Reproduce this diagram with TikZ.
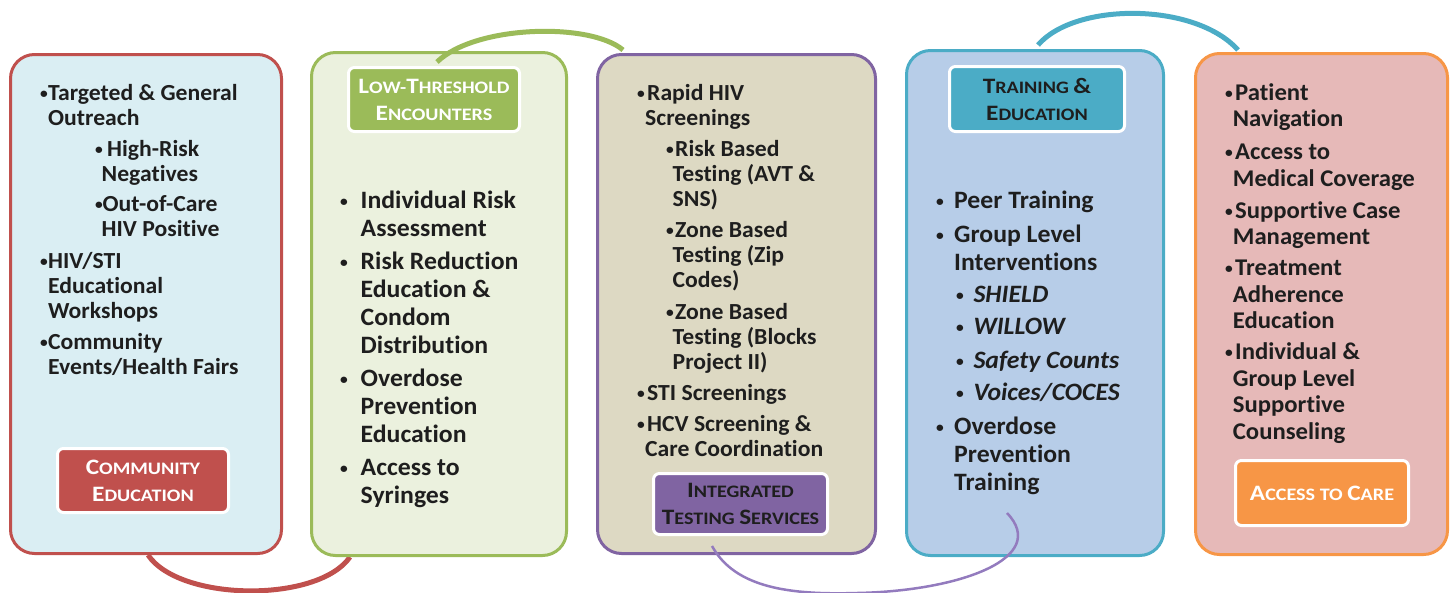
\documentclass[tikz,border=0pt]{standalone}
\usepackage{fontspec}
\setmainfont{Carlito}[Ligatures=NoCommon, FakeStretch=1.03]
\newfontfamily\labelfont{Carlito}[Ligatures=NoCommon, FakeStretch=1.15]
\usetikzlibrary{backgrounds}

\definecolor{redB}{HTML}{C0504D}
\definecolor{greenB}{HTML}{9BBB59}
\definecolor{purpleB}{HTML}{8064A2}
\definecolor{tealB}{HTML}{4BACC6}
\definecolor{orangeB}{HTML}{F79646}
\definecolor{fillA}{HTML}{DAEEF3}
\definecolor{fillB}{HTML}{EBF1DE}
\definecolor{fillC}{HTML}{DDD9C3}
\definecolor{fillD}{HTML}{B7CDE8}
\definecolor{fillE}{HTML}{E6B9B8}
\definecolor{purpleL}{HTML}{937BBE}
\definecolor{ink}{HTML}{1E1E1E}

% small bullet followed by a fixed gap; continuation lines are indented by \hspace*
\newcommand\bu[1]{\makebox[#1pt][l]{\raisebox{2.2pt}{\fontsize{15}{15}\selectfont •}}}
\newcommand\ind[1]{\hspace*{#1pt}}
% larger initial capital for the label headings
\newcommand\bigc[1]{{\fontsize{22}{27}\selectfont #1}}

\begin{document}
\begin{tikzpicture}[x=1pt,y=-1pt,
  panel/.style={draw, line width=3pt, rounded corners=24pt, anchor=north west,
    inner sep=0pt},
  tag/.style={draw=white, line width=3pt, rounded corners=6pt, inner sep=0pt,
    align=center, font=\labelfont\bfseries\fontsize{17.5}{27}\selectfont},
  body/.style={anchor=north west, inner sep=0pt, align=left, text=ink},
  link/.style={line width=5pt},
]
\useasboundingbox (0,0) rectangle (1454,592);

% the five panels
\node[panel, draw=redB,    fill=fillA, minimum width=271pt, minimum height=499pt] (b1) at (9,53) {};
\node[panel, draw=greenB,  fill=fillB, minimum width=255pt, minimum height=503pt] (b2) at (310,51) {};
\node[panel, draw=purpleB, fill=fillC, minimum width=278pt, minimum height=499pt] (b3) at (596,53) {};
\node[panel, draw=tealB,   fill=fillD, minimum width=257pt, minimum height=505pt] (b4) at (905,49) {};
\node[panel, draw=orangeB, fill=fillE, minimum width=252pt, minimum height=501pt] (b5) at (1194,52) {};

% connector end points
\coordinate (r1) at ([xshift=139pt]b1.south west);
\coordinate (r2) at ([xshift=40pt]b2.south west);
\coordinate (g1) at ([xshift=127pt,yshift=-11pt]b2.north west);
\coordinate (g2) at ([xshift=27pt,yshift=3pt]b3.north west);
\coordinate (p1) at ([xshift=116pt,yshift=9pt]b3.south west);
\coordinate (pm) at ([xshift=-48pt,yshift=-36pt]b4.south west);
\coordinate (p2) at ([xshift=102pt,yshift=44pt]b4.south west);
\coordinate (c1) at ([xshift=133pt,yshift=4pt]b4.north west);
\coordinate (c2) at ([xshift=44pt,yshift=2pt]b5.north west);

% connecting arcs
\begin{scope}[on background layer]
  \draw[link, draw=redB] (r1) .. controls +(32,47) and +(-32,46) .. (r2);
\end{scope}
\draw[link, draw=greenB] (g1) .. controls +(38,-37) and +(-33,-28) .. (g2);
\draw[link, draw=tealB]  (c1) .. controls +(37,-43) and +(-43,-48) .. (c2);
\draw[line width=2.5pt, draw=purpleL] (p1) .. controls +(23,42) and +(-67,2) .. (pm)
  .. controls +(103,-2) and +(43,45) .. (p2);

% heading tags
\node[tag, fill=redB, text=white, minimum width=171pt, minimum height=64pt] (l1) at (143,480.5)
  {\bigc{C}OMMUNITY\\\bigc{E}DUCATION};
\node[tag, fill=greenB, text=white, minimum width=171pt, minimum height=64pt] (l2) at (434,99.5)
  {\bigc{L}OW-\bigc{T}HRESHOLD\\\bigc{E}NCOUNTERS};
\node[tag, fill=purpleB, text=ink, minimum width=174pt, minimum height=61pt] (l3) at (740.5,504)
  {\bigc{I}NTEGRATED\\\bigc{T}ESTING \bigc{S}ERVICES};
\node[tag, fill=tealB, text=ink, minimum width=175pt, minimum height=65pt] (l4) at (1037,99)
  {\bigc{T}RAINING \bigc{\&}\\\bigc{E}DUCATION};
\node[tag, fill=orangeB, text=white, minimum width=173pt, minimum height=65pt] (l5) at (1322,493)
  {\bigc{A}CCESS TO \bigc{C}ARE};

% panel contents
\node[body, font=\bfseries\fontsize{23}{25}\selectfont] (t1) at (40,78)
  {\rule{0pt}{22pt}\bu{8}Targeted \& General\\
   \ind{8}Outreach\\[6pt]
   \ind{55}\bu{12}High-Risk\\
   \ind{61.5}Negatives\\[5pt]
   \ind{55}\bu{7.5}Out-of-Care\\
   \ind{61.5}HIV Positive\\[7pt]
   \bu{8}HIV/STI\\
   \ind{8}Educational\\
   \ind{8}Workshops\\[6pt]
   \bu{8}Community\\
   \ind{8}Events/Health Fairs};

\node[body, font=\bfseries\fontsize{25}{28}\selectfont] (t2) at (340,186)
  {\rule{0pt}{22pt}\bu{20.5}Individual Risk\\
   \ind{20.5}Assessment\\[5pt]
   \bu{20.5}Risk Reduction\\
   \ind{20.5}Education \&\\
   \ind{20.5}Condom\\
   \ind{20.5}Distribution\\[5pt]
   \bu{20.5}Overdose\\
   \ind{20.5}Prevention\\
   \ind{20.5}Education\\[5pt]
   \bu{20.5}Access to\\
   \ind{20.5}Syringes};

\node[body, font=\bfseries\fontsize{23}{25}\selectfont] (t3) at (637,78.5)
  {\rule{0pt}{22pt}\bu{10}Rapid HIV\\
   \ind{8}Screenings\\[6pt]
   \ind{29}\bu{9}Risk Based\\
   \ind{35.5}Testing (AVT \&\\
   \ind{35.5}SNS)\\[6pt]
   \ind{29}\bu{9}Zone Based\\
   \ind{35.5}Testing (Zip\\
   \ind{35.5}Codes)\\[7pt]
   \ind{29}\bu{9}Zone Based\\
   \ind{35.5}Testing (Blocks\\
   \ind{35.5}Project II)\\[6pt]
   \bu{10}STI Screenings\\[6pt]
   \bu{10}HCV Screening \&\\
   \ind{8}Care Coordination};

\node[body, font=\bfseries\fontsize{25}{28}\selectfont] (t4) at (936,186)
  {\rule{0pt}{22pt}\bu{18}Peer Training\\[6pt]
   \bu{18}Group Level\\
   \ind{18}Interventions\\[4pt]
   \ind{20}\bu{17.3}\textit{SHIELD}\\[4pt]
   \ind{20}\bu{17.3}\textit{WILLOW}\\[6pt]
   \ind{20}\bu{17.3}\textit{Safety Counts}\\[4pt]
   \ind{20}\bu{17.3}\textit{Voices/COCES}\\[6pt]
   \bu{18}Overdose\\
   \ind{18}Prevention\\
   \ind{18}Training};

\node[body, font=\bfseries\fontsize{24}{26.5}\selectfont] (t5) at (1225,78)
  {\rule{0pt}{22pt}\bu{10}Patient\\
   \ind{7.7}Navigation\\[6.5pt]
   \bu{10}Access to\\
   \ind{7.7}Medical Coverage\\[5.5pt]
   \bu{10}Supportive Case\\
   \ind{7.7}Management\\[4.5pt]
   \bu{10}Treatment\\
   \ind{7.7}Adherence\\
   \ind{7.7}Education\\[4.5pt]
   \bu{10}Individual \&\\
   \ind{7.7}Group Level\\
   \ind{7.7}Supportive\\
   \ind{7.7}Counseling};
\end{tikzpicture}
\end{document}
